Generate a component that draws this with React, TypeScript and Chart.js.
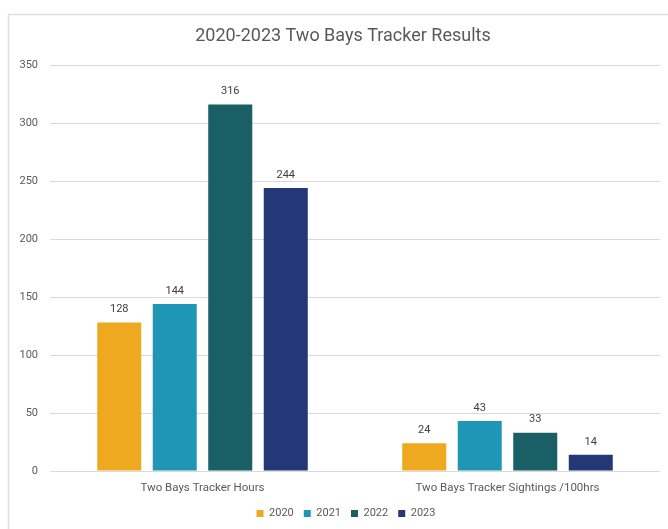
import React, { useEffect, useRef } from "react";
import { Chart, registerables } from "chart.js";

Chart.register(...registerables);

const TITLE = "2020-2023 Two Bays Tracker Results";
const categories = ["Two Bays Tracker Hours", "Two Bays Tracker Sightings /100hrs"];
const seriesNames = ["2020", "2021", "2022", "2023"];
const values2020 = [128, 24];
const values2021 = [144, 43];
const values2022 = [316, 33];
const values2023 = [244, 14];
const seriesColors = ["#EEA920", "#1F96B5", "#1B5F66", "#243877"];
const yMin = 0;
const yMax = 350;
const yStep = 50;

const FONT = "Roboto, 'Liberation Sans', sans-serif";
const TEXT = "#595959";

const framePlugin = {
  id: "frame",
  beforeDraw(chart: any) {
    const { ctx, width, height } = chart;
    ctx.save();
    ctx.fillStyle = "#ffffff";
    ctx.fillRect(0, 0, width, height);
    ctx.strokeStyle = "#e2dede";
    ctx.lineWidth = 1.5;
    ctx.beginPath();
    ctx.moveTo(8.5, height);
    ctx.lineTo(8.5, 14.5);
    ctx.lineTo(width, 14.5);
    ctx.stroke();
    ctx.restore();
  },
};

const shiftPlugin = {
  id: "shiftBlocks",
  afterLayout(chart: any) {
    const lg = chart.legend;
    if (lg) {
      lg.left += 11;
      lg.right += 11;
    }
    const tb = chart.titleBlock;
    if (tb) {
      tb.left += 8;
      tb.right += 8;
    }
  },
};

const dataLabelPlugin = {
  id: "dataLabels",
  afterDatasetsDraw(chart: any) {
    const { ctx } = chart;
    ctx.save();
    ctx.font = `11px ${FONT}`;
    ctx.fillStyle = "#404040";
    ctx.textAlign = "center";
    ctx.textBaseline = "middle";
    chart.data.datasets.forEach((ds: any, i: number) => {
      const meta = chart.getDatasetMeta(i);
      meta.data.forEach((el: any, j: number) => {
        ctx.fillText(String(ds.data[j]), el.x, el.y - 13);
      });
    });
    ctx.restore();
  },
};

export default function App() {
  const ref = useRef<HTMLCanvasElement | null>(null);

  useEffect(() => {
    if (!ref.current) return;
    const all = [values2020, values2021, values2022, values2023];
    const chart = new Chart(ref.current, {
      type: "bar",
      data: {
        labels: categories,
        datasets: seriesNames.map((name, i) => ({
          label: name,
          data: all[i],
          backgroundColor: seriesColors[i],
          borderWidth: 0,
          categoryPercentage: 0.728,
          barPercentage: 0.793,
        })),
      },
      options: {
        responsive: false,
        animation: false,
        devicePixelRatio: 1,
        layout: { padding: { left: 10, right: 8, top: 14, bottom: 0 } },
        plugins: {
          title: {
            display: true,
            text: TITLE,
            color: TEXT,
            font: { family: FONT, size: 18, weight: "normal" },
            padding: { top: 12, bottom: 17.4 },
          },
          legend: {
            display: true,
            position: "bottom",
            labels: {
              boxWidth: 7,
              boxHeight: 7,
              padding: 10,
              color: TEXT,
              font: { family: FONT, size: 11 },
            },
          },
          tooltip: { enabled: false },
        },
        scales: {
          x: {
            grid: { display: false, drawTicks: false },
            border: { display: false },
            ticks: {
              color: TEXT,
              font: { family: FONT, size: 11.5 },
              padding: 10,
            },
            afterFit(scale: any) {
              scale.height = 27;
            },
          },
          y: {
            min: yMin,
            max: yMax,
            grid: { color: "#d9d9d9", lineWidth: 1, drawTicks: false },
            border: { display: false },
            ticks: {
              stepSize: yStep,
              color: TEXT,
              font: { family: FONT, size: 11 },
              padding: 12,
            },
            afterFit(scale: any) {
              scale.width = 40;
            },
          },
        },
      },
      plugins: [framePlugin, shiftPlugin, dataLabelPlugin],
    });
    return () => chart.destroy();
  }, []);

  return (
    <div style={{ position: "fixed", left: 0, top: 0, width: 668, height: 529, background: "#fff" }}>
      <canvas ref={ref} width={668} height={529} style={{ display: "block", width: 668, height: 529 }} />
    </div>
  );
}
